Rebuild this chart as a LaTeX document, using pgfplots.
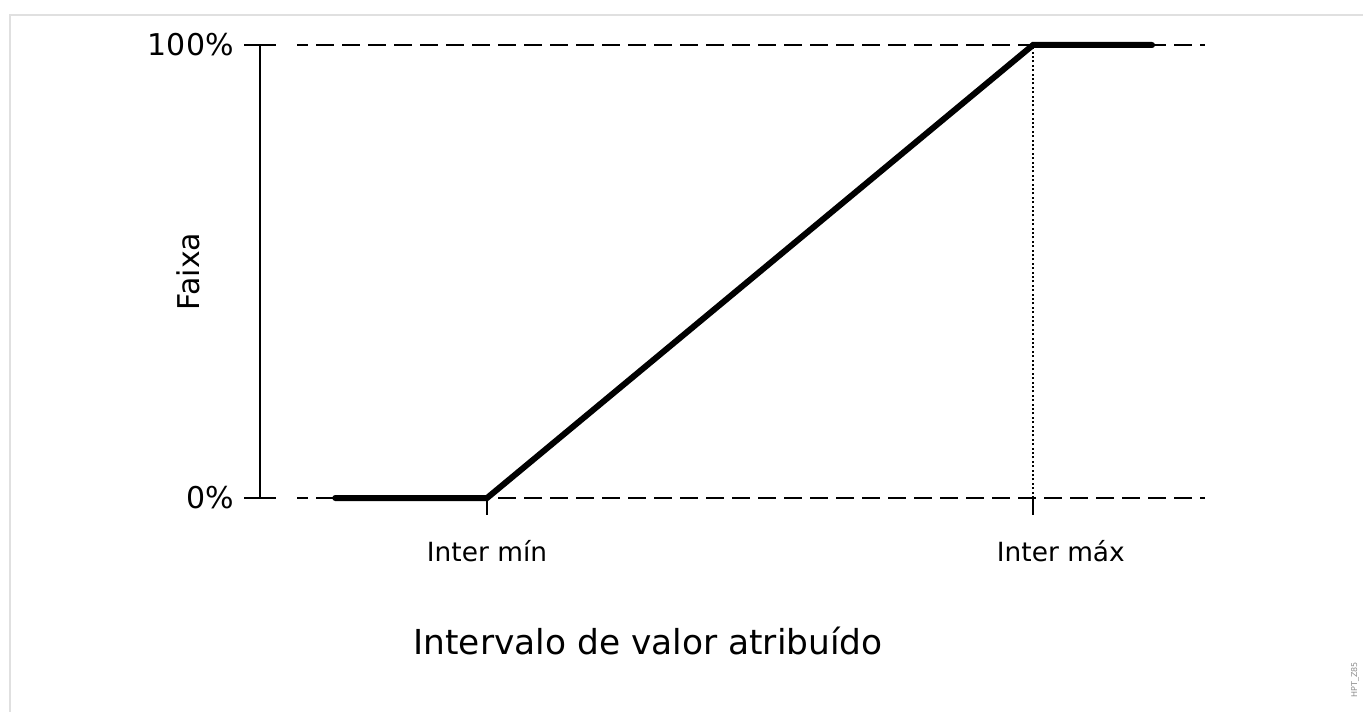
\documentclass[border=0pt]{standalone}
\usepackage{pgfplots}
\pgfplotsset{compat=1.18}
\usepackage{fontspec}
\setmainfont{DejaVu Sans}

\begin{document}
\begin{tikzpicture}
\path[use as bounding box] (0,0) rectangle (681.5pt,-355.5pt);
\draw[black!12, line width=1.2pt] (5pt,-360pt) -- (5pt,-7.5pt) -- (690pt,-7.5pt);
\begin{axis}[
  at={(130pt,-249pt)}, anchor=south west,
  scale only axis, width=472.5pt, height=226.5pt,
  xmin=-0.4158, xmax=1.315, ymin=0, ymax=100,
  axis y line*=left, axis x line=none,
  y axis line style={line width=1pt},
  xtick=\empty, ytick={0,100}, yticklabels=\empty,
  ytick align=center, major tick length=15.5pt,
  ytick style={line width=1pt, black},
  clip=false,
]
% reference levels
\addplot[line width=1pt, dash pattern=on 9pt off 4pt, dash phase=3.5pt] coordinates {(-0.348,100) (1.315,100)};
\addplot[line width=1pt, dash pattern=on 9pt off 4pt, dash phase=3.5pt] coordinates {(-0.348,0) (1.315,0)};
\addplot[line width=0.9pt, dash pattern=on 1pt off 1.2pt] coordinates {(1,0) (1,100)};
% x ticks
\addplot[line width=1pt] coordinates {(0,0) (0,-3.75)};
\addplot[line width=1pt] coordinates {(1,0) (1,-3.75)};
% characteristic
\addplot[line width=3pt, line cap=round, line join=miter] coordinates {
  (-0.278,0) (0,0) (1,100) (1.218,100)};

\node[anchor=east, inner sep=0, font=\fontsize{15}{18}\selectfont] at (axis cs:-0.4634,100) {100\%};
\node[anchor=east, inner sep=0, font=\fontsize{15}{18}\selectfont] at (axis cs:-0.4634,0) {0\%};
\node[font=\fontsize{13.2}{16}\selectfont] at (axis cs:0,-11.7) {Inter mín};
\node[font=\fontsize{13.2}{16}\selectfont] at (axis cs:1.051,-11.7) {Inter máx};
\node[font=\fontsize{17.2}{20}\selectfont] at (axis cs:0.295,-31.6) {Intervalo de valor atribuído};
\node[rotate=90, font=\fontsize{15}{18}\selectfont] at (axis cs:-0.5476,50) {Faixa};
\end{axis}
\node[rotate=90, black!45, font=\fontsize{4}{5}\selectfont] at (677.5pt,-340pt) {HPT\_Z85};
\end{tikzpicture}
\end{document}
